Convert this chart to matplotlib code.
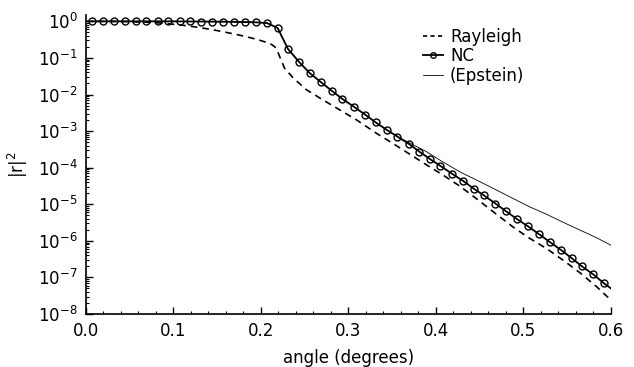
import matplotlib
matplotlib.use("Agg")
import matplotlib.pyplot as plt
from matplotlib.ticker import MultipleLocator, LogLocator, NullFormatter, FixedLocator
from matplotlib.lines import Line2D

# NC points (circles), angle in degrees, log10 |r|^2
nc_x = [0.007, 0.020, 0.032, 0.045, 0.057, 0.069, 0.082, 0.094, 0.107, 0.119,
        0.132, 0.144, 0.157, 0.169, 0.182, 0.194, 0.207, 0.219, 0.231, 0.244,
        0.256, 0.269, 0.281, 0.293, 0.306, 0.319, 0.331, 0.344, 0.356, 0.369,
        0.381, 0.393, 0.405, 0.418, 0.431, 0.443, 0.455, 0.468, 0.480, 0.493,
        0.505, 0.518, 0.530, 0.543, 0.555, 0.567, 0.580, 0.592]
nc_log = [0.0, 0.0, 0.0, 0.0, 0.0, 0.0, 0.0, 0.0, -0.002, -0.004,
          -0.005, -0.008, -0.01, -0.014, -0.02, -0.027, -0.047, -0.18, -0.76, -1.12,
          -1.42, -1.67, -1.90, -2.12, -2.33, -2.55, -2.76, -2.97, -3.15, -3.35,
          -3.56, -3.76, -3.95, -4.16, -4.36, -4.57, -4.76, -4.98, -5.19, -5.41,
          -5.60, -5.82, -6.03, -6.25, -6.47, -6.70, -6.92, -7.16]
nc_end_x = 0.6
nc_end_log = -7.30

# Rayleigh (dashed)
ray_x = [0.0, 0.03, 0.05, 0.07, 0.085, 0.10, 0.115, 0.13, 0.145, 0.16, 0.176,
         0.190, 0.199, 0.207, 0.212, 0.216, 0.219, 0.222, 0.227, 0.237, 0.252,
         0.271, 0.290, 0.309, 0.332, 0.351, 0.370, 0.389, 0.408, 0.427, 0.447,
         0.469, 0.488, 0.507, 0.527, 0.546, 0.565, 0.584, 0.600]
ray_log = [0.0, -0.002, -0.01, -0.025, -0.045, -0.08, -0.12, -0.17, -0.23, -0.30, -0.38,
           -0.46, -0.52, -0.58, -0.63, -0.70, -0.82, -1.00, -1.28, -1.55, -1.87,
           -2.15, -2.42, -2.69, -3.06, -3.34, -3.63, -3.92, -4.20, -4.50, -4.86,
           -5.27, -5.62, -5.93, -6.22, -6.54, -6.88, -7.26, -7.62]

# Epstein (thin solid)
ep_x = nc_x[:29] + [0.363, 0.376, 0.389, 0.405, 0.427, 0.450, 0.469, 0.488, 0.507,
                    0.527, 0.546, 0.565, 0.584, 0.600]
ep_log = nc_log[:29] + [-3.24, -3.40, -3.56, -3.80, -4.11, -4.38, -4.61, -4.84, -5.07,
                        -5.28, -5.50, -5.71, -5.92, -6.12]

plt.rcParams["font.family"] = ["DejaVu Sans"]
plt.rcParams["font.size"] = 10.5

fig = plt.figure(figsize=(6.34, 3.67), dpi=100)
ax = fig.add_axes([0.1356, 0.1444, 0.828, 0.815])

ax.plot(ray_x, [10 ** v for v in ray_log], color="black", lw=1.2, dashes=(4, 3))
ax.plot(ep_x, [10 ** v for v in ep_log], color="black", lw=0.6)
ax.plot(nc_x + [nc_end_x], [10 ** v for v in nc_log + [nc_end_log]], color="black",
        lw=1.3, marker="o", mfc="none", mec="black", ms=5, mew=1.0,
        markevery=list(range(len(nc_x))))

ax.set_yscale("log")
ax.set_xlim(0.0, 0.6)
ax.set_ylim(1e-8, 1.5)

ax.spines["top"].set_visible(False)
ax.spines["right"].set_visible(False)
ax.spines["left"].set_linewidth(1.2)
ax.spines["bottom"].set_linewidth(1.2)

ax.xaxis.set_major_locator(MultipleLocator(0.1))
ax.xaxis.set_minor_locator(MultipleLocator(0.02))
ax.set_xticklabels(["%.1f" % v for v in ax.get_xticks()])
ax.yaxis.set_major_locator(FixedLocator([10.0 ** e for e in range(-8, 1)]))
ax.yaxis.set_minor_locator(LogLocator(base=10, subs=range(2, 10), numticks=20))
ax.yaxis.set_minor_formatter(NullFormatter())
ax.set_yticklabels(["$10^{%d}$" % e for e in range(-8, 1)])

ax.tick_params(which="major", direction="in", length=5, width=1.0, labelsize=12, pad=6)
ax.tick_params(which="minor", direction="in", length=2.5, width=0.8)

ax.set_xlabel("angle (degrees)", fontsize=12, labelpad=6)
ax.set_ylabel(r"$\mathrm{|r|^2}$", fontsize=12, labelpad=6)

handles = [
    Line2D([], [], color="black", lw=1.2, dashes=(2.5, 2)),
    Line2D([], [], color="black", lw=1.3, marker="o", mfc="none", ms=4, mew=1.0),
    Line2D([], [], color="black", lw=0.6),
]
ax.legend(handles, ["Rayleigh", "NC", "(Epstein)"], loc="upper left",
          bbox_to_anchor=(0.63, 0.98), frameon=False, fontsize=12,
          handlelength=1.2, handletextpad=0.4, labelspacing=0.1, borderaxespad=0)

fig.savefig("out.png", dpi=100)
